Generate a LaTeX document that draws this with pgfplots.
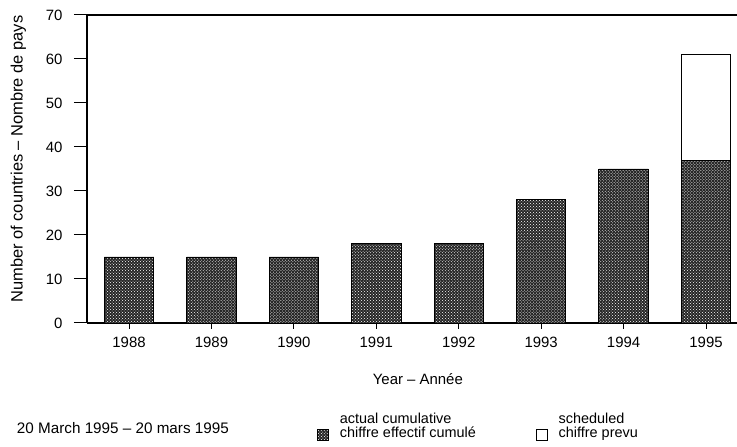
\documentclass[border=0pt]{standalone}
\usepackage{fontspec}
\setmainfont{Liberation Sans}
\usepackage{pgfplots}
\pgfplotsset{compat=1.18}
\usetikzlibrary{patterns}
\newcommand{\fs}{\fontsize{15}{17}\selectfont}
\begin{document}
\begin{tikzpicture}
\begin{axis}[
  name=ax,
  scale only axis, width=650bp, height=308bp,
  xmin=-0.51, xmax=7.376, ymin=0, ymax=70,
  ybar stacked, bar width=0.6,
  axis x line*=box, axis y line*=left,
  xtick pos=bottom, ytick pos=left,
  axis line style={line width=1.3bp},
  tick align=outside,
  major tick length=13bp,
  tick style={line width=1bp, black},
  xtick={0,...,7}, xticklabels={1988,1989,1990,1991,1992,1993,1994,1995},
  major x tick style={/pgfplots/major tick length=6bp, line width=1bp, black},
  ytick={0,10,...,70},
  tick label style={font=\fs},
  /pgf/number format/assume math mode=true,
  xticklabel style={yshift=2bp},
  yticklabel style={xshift=-8bp},
  xlabel={Year – Année},
  xlabel style={at={(axis description cs:0.509,-0.2013)}, anchor=base, font=\fs},
  ylabel={Number of countries – Nombre de pays},
  ylabel style={at={(axis description cs:-0.1054,0.532)}, anchor=center, font=\fontsize{16.5}{19}\selectfont},
  clip=false,
  legend columns=2,
  legend cell align=left,
  legend style={draw=none, fill=none, at={(axis description cs:0.354,-0.292)}, anchor=north west,
    inner sep=0pt, outer sep=0pt,
    nodes={inner sep=0pt, font=\fontsize{14.5}{14}\selectfont},
    cells={align=left},
    /tikz/every odd column/.append style={column sep=11bp},
    /tikz/every even column/.append style={column sep=60bp}},
  every axis plot post/.append style={legend image code/.code={\draw[#1, line width=0.8bp] (0bp,-15bp) rectangle (11bp,-4bp);}},
]
\addplot[draw=black, line width=0.8bp, fill=black!85, postaction={pattern=crosshatch dots, pattern color=white}]
  coordinates {(0,15) (1,15) (2,15) (3,18) (4,18) (5,28) (6,35) (7,37)};
\addlegendentry{actual cumulative\\chiffre effectif cumulé}
\addplot[draw=black, line width=0.8bp, fill=white]
  coordinates {(0,0) (1,0) (2,0) (3,0) (4,0) (5,0) (6,0) (7,24)};
\addlegendentry{scheduled\\chiffre prevu}
\node[anchor=west, font=\fontsize{15.3}{17}\selectfont, inner sep=0pt] at (axis description cs:-0.108,-0.341) {20 March 1995 – 20 mars 1995};
\end{axis}
\pgfresetboundingbox
\path ([xshift=-87bp,yshift=-124bp]ax.south west) rectangle ([yshift=15bp]ax.north east);
\end{tikzpicture}
\end{document}
